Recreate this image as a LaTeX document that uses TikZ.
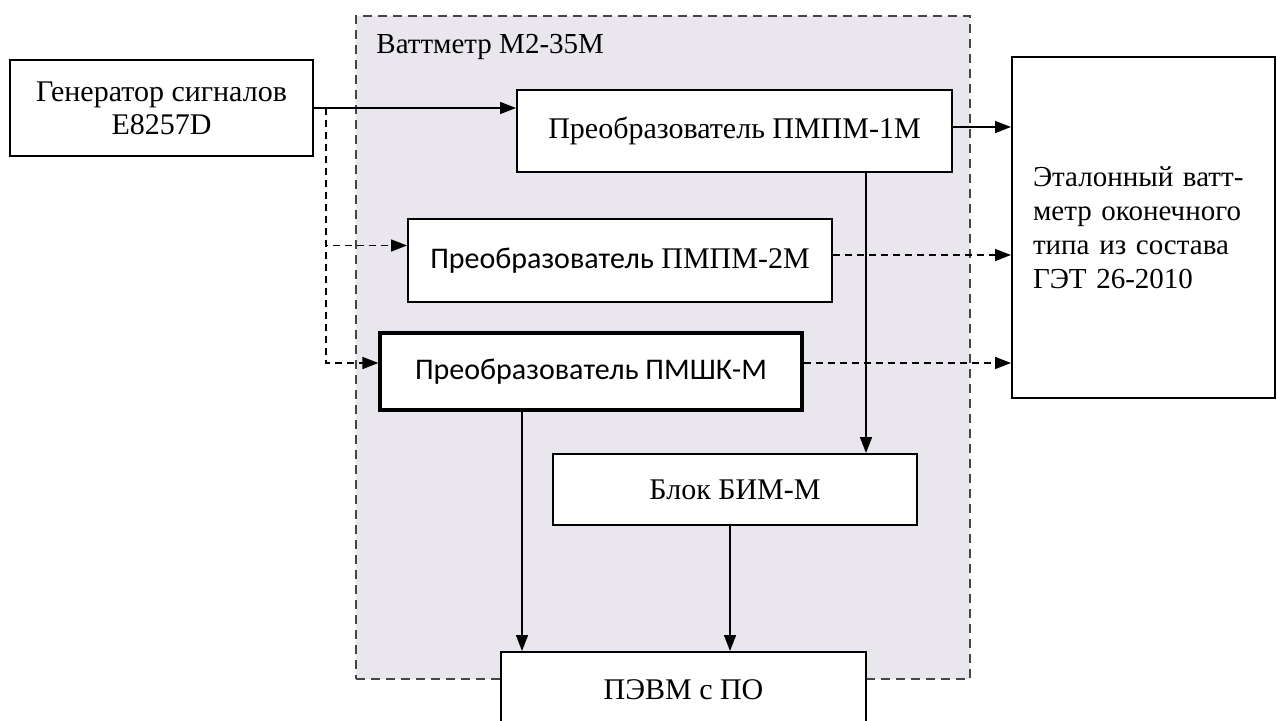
\documentclass[tikz,border=0pt]{standalone}
\usepackage{fontspec}
\setmainfont{Liberation Serif}
\newfontfamily\calibrifont{Carlito}
\usetikzlibrary{arrows.meta,positioning,calc}
\definecolor{wmfill}{HTML}{E9E6EE}
\definecolor{wmframe}{HTML}{454545}
\tikzset{
  sigarrow/.style={-{Triangle[length=8pt,width=6pt]}, line width=0.8pt, draw=black},
  altarrow/.style={sigarrow, dash pattern=on 3.5pt off 2.5pt},
  unit/.style={draw=black, line width=1pt, fill=white, align=center,
    inner sep=2pt, font=\fontsize{15}{16.5}\selectfont},
  thickunit/.style={unit, line width=1.6pt},
  meterbox/.style={draw=wmframe, line width=0.7pt, dash pattern=on 4.5pt off 3pt,
    fill=wmfill, inner sep=0pt},
  meterlabel/.style={font=\fontsize{14.5}{16}\selectfont, inner sep=0pt}
}

\begin{document}
\begin{tikzpicture}[x=0.5pt, y=-0.5pt]
    \useasboundingbox (0,0) rectangle (1277,721);
    \node[meterbox, minimum width=307pt, minimum height=331.5pt] (wm) at (663,347.5) {};
    \node[meterlabel, anchor=west] (wmlabel) at (376,47) {Ваттметр М2-35М};

    \node[unit, minimum width=151.5pt, minimum height=48pt] (gen) at (161.5,108)
        {Генератор сигналов\\E8257D};
    \node[unit, minimum width=217.5pt, minimum height=41pt] (pmpm1) at (734.5,131)
        {Преобразователь ПМПМ-1М};
    \node[unit, minimum width=212pt, minimum height=41.5pt] (pmpm2) at (620,260.5)
        {{\calibrifont Преобразователь} ПМПМ-2М};
    \node[thickunit, minimum width=211pt, minimum height=38.5pt] (pmshk) at (591,371.5)
        {\calibrifont Преобразователь ПМШК-М};
    \node[unit, minimum width=182pt, minimum height=35.5pt] (bim) at (735,489.5)
        {Блок БИМ-М};
    \node[unit, minimum width=182.5pt, minimum height=38pt] (pevm) at (683.5,690)
        {ПЭВМ с ПО};
    \node[unit, minimum width=131.5pt, minimum height=170.5pt, text width=110.5pt,
        align=left, inner sep=0pt, font=\fontsize{14.5}{17}\selectfont] (ref) at (1143.5,227.5)
        {Эталонный ватт-\\метр оконечного\\типа из состава\\ГЭТ 26-2010\\[6pt]};

    \coordinate (split) at ($(gen.east)+(12,0)$);
    \coordinate (pmpm2in) at ($(pmpm2.west)+(0,-15)$);
    \coordinate (pmshkin) at ($(pmshk.west)+(0,-8.5)$);
    \coordinate (pmpm1out) at ($(pmpm1.east)+(0,-4)$);
    \coordinate (pmpm2out) at ($(pmpm2.east)+(0,-5.5)$);
    \coordinate (pmshkout) at ($(pmshk.east)+(0,-8.5)$);
    \coordinate (pmpm1down) at ($(pmpm1.south)+(131.5,0)$);
    \coordinate (pmshkdown) at ($(pmshk.south)+(-69,0)$);
    \coordinate (bimdown) at ($(bim.south)+(-5,0)$);

    \draw[sigarrow] (gen.east) -- (gen.east -| pmpm1.west);
    \draw[altarrow] (split) |- (pmpm2in);
    \draw[altarrow] (split) |- (pmshkin);
    \draw[sigarrow] (pmpm1out) -- (pmpm1out -| ref.west);
    \draw[altarrow] (pmpm2out) -- (pmpm2out -| ref.west);
    \draw[altarrow] (pmshkout) -- (pmshkout -| ref.west);
    \draw[sigarrow] (pmpm1down) -- (pmpm1down |- bim.north);
    \draw[sigarrow] (pmshkdown) -- (pmshkdown |- pevm.north);
    \draw[sigarrow] (bimdown) -- (bimdown |- pevm.north);
\end{tikzpicture}
\end{document}
